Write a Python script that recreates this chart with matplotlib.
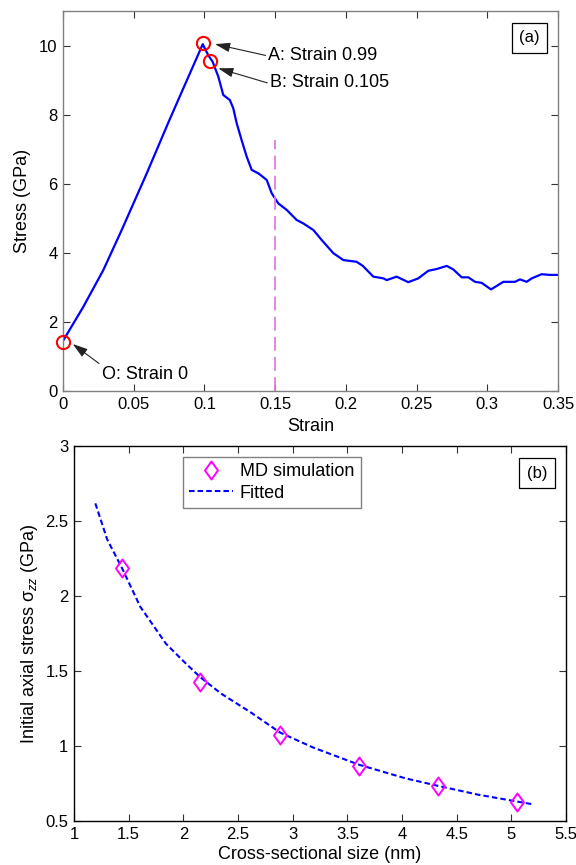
import matplotlib
matplotlib.use("Agg")
import matplotlib.pyplot as plt
from matplotlib.path import Path

plt.rcParams['font.family'] = ['Liberation Sans', 'DejaVu Sans']
plt.rcParams['mathtext.fontset'] = 'custom'
plt.rcParams['mathtext.rm'] = 'Liberation Sans'
plt.rcParams['mathtext.it'] = 'Liberation Sans:italic'
plt.rcParams['lines.scale_dashes'] = False

# ---------------- data: panel (a) ----------------
strain = [0.0, 0.0144, 0.0285, 0.0415, 0.0592, 0.0752, 0.0988,
          0.1027, 0.1058, 0.1098, 0.1133, 0.118, 0.1204, 0.1228, 0.1263, 0.1299, 0.1334,
          0.1381, 0.144, 0.1476, 0.1522, 0.1582, 0.1652, 0.1699, 0.177, 0.1829, 0.1911,
          0.1982, 0.2076, 0.2120, 0.2194, 0.2265, 0.2289, 0.2359, 0.2441, 0.2512, 0.2583,
          0.2642, 0.2713, 0.2759, 0.2819, 0.2866, 0.2913, 0.296, 0.3026, 0.3066, 0.3113,
          0.3196, 0.3231, 0.3278, 0.3314, 0.3384, 0.3443, 0.35]
stress = [1.45, 2.44, 3.50, 4.66, 6.30, 7.84, 10.04,
          9.72, 9.53, 9.10, 8.57, 8.42, 8.18, 7.75, 7.26, 6.78, 6.40,
          6.30, 6.11, 5.72, 5.43, 5.24, 4.95, 4.85, 4.66, 4.37, 3.99,
          3.79, 3.74, 3.62, 3.31, 3.26, 3.21, 3.31, 3.15, 3.26, 3.48,
          3.53, 3.62, 3.52, 3.29, 3.29, 3.16, 3.13, 2.94, 3.04, 3.16,
          3.16, 3.23, 3.16, 3.26, 3.38, 3.36, 3.36]

circle_x = [0.0, 0.0988, 0.1039]
circle_y = [1.43, 10.08, 9.56]

ann_texts = ['O: Strain 0', 'A: Strain 0.99', 'B: Strain 0.105']
ann_text_x = [0.0274, 0.1452, 0.1464]
ann_text_y = [0.49, 9.72, 8.92]
ann_head_x = [0.0069, 0.1075, 0.1098]
ann_head_y = [1.36, 10.04, 9.34]

vline_x = 0.15
vline_top = 7.26

xticks_a = [0, 0.05, 0.1, 0.15, 0.2, 0.25, 0.3, 0.35]
xticklabels_a = ['0', '0.05', '0.1', '0.15', '0.2', '0.25', '0.3', '0.35']
yticks_a = [0, 2, 4, 6, 8, 10]
yticklabels_a = ['0', '2', '4', '6', '8', '10']

# ---------------- data: panel (b) ----------------
md_size = [1.4375, 2.154, 2.885, 3.608, 4.325, 5.056]
md_stress = [2.19, 1.43, 1.074, 0.868, 0.734, 0.629]

fit_size = [1.195, 1.303, 1.4375, 1.606, 1.841, 2.01, 2.154, 2.346, 2.616, 2.885,
            3.188, 3.608, 4.03, 4.325, 4.70, 5.19]
fit_stress = [2.62, 2.38, 2.19, 1.93, 1.683, 1.56, 1.46, 1.35, 1.225, 1.09,
              0.99, 0.875, 0.785, 0.735, 0.675, 0.612]

xticks_b = [1, 1.5, 2, 2.5, 3, 3.5, 4, 4.5, 5, 5.5]
xticklabels_b = ['1', '1.5', '2', '2.5', '3', '3.5', '4', '4.5', '5', '5.5']
yticks_b = [0.5, 1, 1.5, 2, 2.5, 3]
yticklabels_b = ['0.5', '1', '1.5', '2', '2.5', '3']

# ---------------- figure ----------------
fig = plt.figure(figsize=(5.76, 8.65), dpi=100)
ax1 = fig.add_axes([0.1094, 0.548, 0.8594, 0.4393])
ax2 = fig.add_axes([0.1285, 0.0509, 0.8542, 0.433])

TICK_FS = 12
LABEL_FS = 13

# panel (a)
ax1.plot(strain, stress, color='#0000ff', lw=1.6)
ax1.plot([vline_x, vline_x], [0, vline_top], color='#e07ce0', lw=1.3,
         dashes=(10, 4.5))
ax1.plot(circle_x, circle_y, 'o', ms=9.5, mfc='none', mec='#ff0000', mew=1.5,
         clip_on=False, zorder=5)
relpos = [(0, 1), (0, 0.45), (0, 0.45)]
for t, tx, ty, hx, hy, rp in zip(ann_texts, ann_text_x, ann_text_y,
                                 ann_head_x, ann_head_y, relpos):
    ax1.annotate(t, xy=(hx, hy), xytext=(tx, ty), fontsize=LABEL_FS,
                 ha='left', va='center',
                 arrowprops=dict(arrowstyle='-|>,head_length=0.7,head_width=0.22',
                                 color='#222222', lw=0.8, relpos=rp,
                                 shrinkA=0, shrinkB=0))
ax1.set_xlim(0, 0.35)
ax1.set_ylim(0, 11)
ax1.set_xticks(xticks_a)
ax1.set_xticklabels(xticklabels_a)
ax1.set_yticks(yticks_a)
ax1.set_yticklabels(yticklabels_a)
ax1.set_xlabel('Strain', fontsize=LABEL_FS, labelpad=5)
ax1.set_ylabel('Stress (GPa)', fontsize=LABEL_FS, labelpad=6)
for s in ax1.spines.values():
    s.set_color('#808080')
    s.set_linewidth(1.0)
ax1.text(0.942, 0.929, '(a)', transform=ax1.transAxes, fontsize=12,
         ha='center', va='center',
         bbox=dict(boxstyle='square,pad=0.45', fc='white', ec='black', lw=0.9))

# panel (b)
diamond = Path([(0, 1), (0.72, 0), (0, -1), (-0.72, 0), (0, 1)],
               [Path.MOVETO, Path.LINETO, Path.LINETO, Path.LINETO, Path.CLOSEPOLY])
ax2.plot(fit_size, fit_stress, color='#0000ff', lw=1.5, dashes=(4.0, 2.2),
         label='Fitted', zorder=2)
ax2.plot(md_size, md_stress, linestyle='none', marker=diamond, ms=13,
         mfc='none', mec='#ff00ff', mew=1.4, label='MD simulation', zorder=3)
ax2.set_xlim(1, 5.5)
ax2.set_ylim(0.5, 3)
ax2.set_xticks(xticks_b)
ax2.set_xticklabels(xticklabels_b)
ax2.set_yticks(yticks_b)
ax2.set_yticklabels(yticklabels_b)
ax2.set_xlabel('Cross-sectional size (nm)', fontsize=LABEL_FS, labelpad=3)
ax2.set_ylabel('Initial axial stress σ$_{zz}$ (GPa)', fontsize=LABEL_FS, labelpad=4)
for s in ax2.spines.values():
    s.set_color('black')
    s.set_linewidth(1.0)
h, l = ax2.get_legend_handles_labels()
leg = ax2.legend(h[::-1], l[::-1], loc='upper left', bbox_to_anchor=(0.2215, 0.972),
                 borderaxespad=0, fontsize=LABEL_FS, frameon=True, fancybox=False,
                 edgecolor='#808080', framealpha=1, handlelength=2.4,
                 handletextpad=0.4, borderpad=0.35, labelspacing=0.25)
leg.get_frame().set_linewidth(1.0)
ax2.text(0.941, 0.929, '(b)', transform=ax2.transAxes, fontsize=12,
         ha='center', va='center',
         bbox=dict(boxstyle='square,pad=0.45', fc='white', ec='black', lw=0.9))

for ax in (ax1, ax2):
    ax.tick_params(direction='in', top=True, right=True, length=5, width=0.8,
                   labelsize=TICK_FS, pad=4, color='#333333')

fig.savefig('out.png', dpi=100)
